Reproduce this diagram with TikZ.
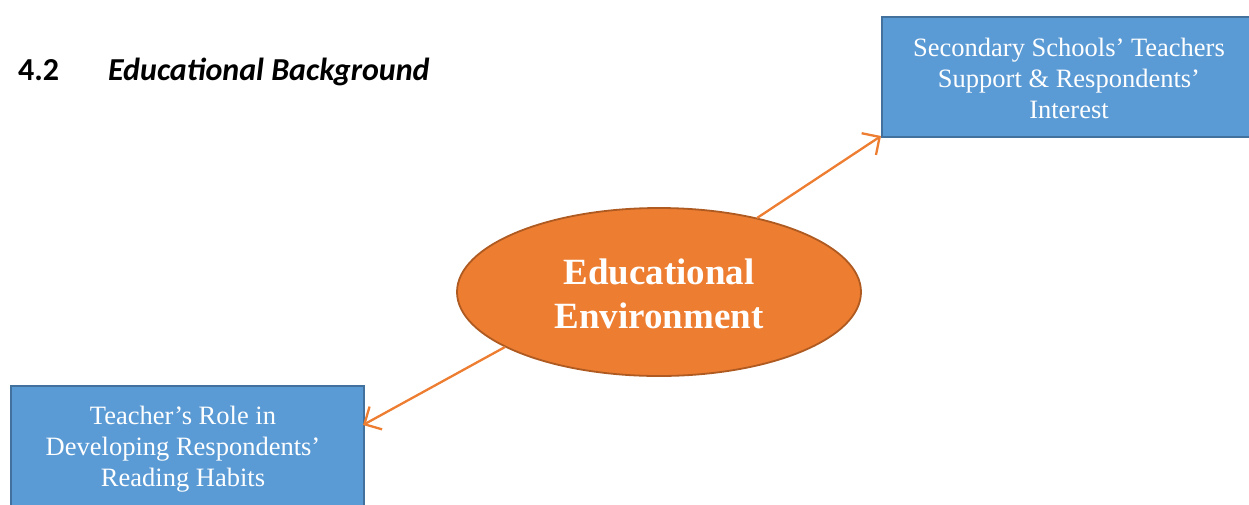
\documentclass[tikz,border=0pt]{standalone}
\usepackage{fontspec}
\setmainfont{Liberation Serif}
\newfontfamily\headfont{Carlito}
\usetikzlibrary{shapes.geometric,arrows.meta}
\definecolor{boxblue}{HTML}{5B9BD5}
\definecolor{boxedge}{HTML}{41719C}
\definecolor{orng}{HTML}{ED7D31}
\definecolor{orngedge}{HTML}{AE5A21}
\begin{document}
\begin{tikzpicture}[x=1pt,y=-1pt,
  bluebox/.style={draw=boxedge,line width=1.8pt,fill=boxblue,inner sep=0pt},
  boxtext/.style={text=white,align=center,font=\fontsize{26.5}{31}\selectfont,inner sep=0pt},
  hub/.style={ellipse,draw=orngedge,line width=1.8pt,fill=orng,inner sep=0pt,
    minimum width=404pt,minimum height=168pt},
  hubtext/.style={text=white,align=center,inner sep=0pt,
    font=\fontsize{37}{44}\selectfont\bfseries},
  link/.style={draw=orng,line width=2.3pt,-{Straight Barb[length=13pt,width=26pt,line width=2.3pt]}}]
\useasboundingbox (0,0) rectangle (1249,504);
\begin{scope}
\clip (0,0) rectangle (1249,504);
\node[bluebox,minimum width=377pt,minimum height=120pt,anchor=north west] (tr) at (881,16) {};
\node[bluebox,minimum width=353pt,minimum height=140pt,anchor=north west] (bl) at (10,385) {};
\end{scope}
\node[boxtext] (trt) at (1069,78)
  {Secondary Schools’ Teachers\\Support \& Respondents’\\Interest};
\node[boxtext] (blt) at (183,449)
  {Teacher’s Role in\\Developing Respondents’\\Reading Habits};
\node[hub] (hub) at (659,292) {};
\node[hubtext] (hubt) at (659,294) {Educational\\Environment};
\node[anchor=base west,font=\headfont\fontsize{32}{36}\selectfont\bfseries,inner sep=0pt] (num) at (18,80) {4.2};
\node[anchor=base west,font=\headfont\fontsize{32}{36}\selectfont\bfseries\itshape,inner sep=0pt] (ttl) at (108,80) {Educational Background};
\coordinate (trc) at (881,136);
\coordinate (blc) at (363,425);
\coordinate (s1) at (757,218);
\coordinate (s2) at (505,347);
\draw[link] (s1) -- (trc);
\draw[link] (s2) -- (blc);
\end{tikzpicture}
\end{document}
